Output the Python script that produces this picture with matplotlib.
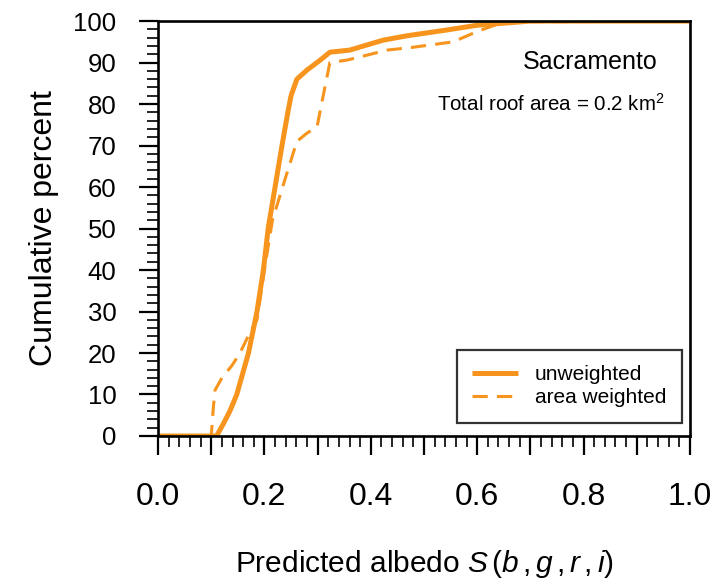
import matplotlib.pyplot as plt
from matplotlib.ticker import MultipleLocator

plt.rcParams['font.family'] = ['Liberation Sans', 'DejaVu Sans']
plt.rcParams['mathtext.fontset'] = 'custom'
plt.rcParams['mathtext.rm'] = 'Liberation Sans'
plt.rcParams['mathtext.it'] = 'Liberation Sans:italic'

# cumulative distribution of predicted albedo, unweighted
albedo_unw = [0.0, 0.11, 0.123, 0.135, 0.148, 0.17, 0.186, 0.198, 0.207, 0.22,
              0.233, 0.244, 0.25, 0.261, 0.28, 0.305, 0.323, 0.36, 0.423, 0.47,
              0.54, 0.6, 0.66, 0.7, 1.0]
pct_unw = [0, 0, 3, 6, 10, 20, 30, 40, 50, 60, 70, 78, 82, 86, 88.2, 90.6,
           92.5, 93, 95.4, 96.5, 97.8, 99, 99.6, 100, 100]

# area weighted
albedo_wtd = [0.0, 0.1, 0.104, 0.107, 0.12, 0.139, 0.154, 0.173, 0.186, 0.2,
              0.215, 0.239, 0.261, 0.28, 0.299, 0.305, 0.323, 0.355, 0.393,
              0.43, 0.48, 0.555, 0.6, 0.65, 1.0]
pct_wtd = [0, 0, 7, 11, 14, 17, 20, 25, 28, 40, 52, 62, 71, 73, 74.5, 78.5, 90,
           90.6, 91.8, 93, 93.7, 95, 97.5, 99.8, 100]

orange = '#f7941d'

fig = plt.figure(figsize=(7.12, 5.86), dpi=100)
ax = fig.add_axes([0.222, 0.256, 0.747, 0.708])

ax.plot(albedo_unw, pct_unw, color=orange, lw=3.6, solid_capstyle='butt',
        label='unweighted')
ax.plot(albedo_wtd, pct_wtd, color=orange, lw=2.2, dashes=(5, 3),
        label='area weighted')

ax.set_xlim(0, 1)
ax.set_ylim(0, 100)
ax.xaxis.set_major_locator(MultipleLocator(0.1))
ax.xaxis.set_minor_locator(MultipleLocator(0.02))
ax.yaxis.set_major_locator(MultipleLocator(10))
ax.yaxis.set_minor_locator(MultipleLocator(2))
# labels only on every other major x tick
ax.xaxis.set_major_formatter(plt.FuncFormatter(
    lambda v, p: f'{v:.1f}' if round(v * 10) % 2 == 0 else ''))

ax.tick_params(which='major', direction='out', length=14, width=1.6)
ax.tick_params(which='minor', direction='out', length=8, width=1.2)
ax.tick_params(axis='y', which='major', pad=16, labelsize=18.5)
ax.tick_params(axis='x', which='major', pad=19, labelsize=23)
for s in ax.spines.values():
    s.set_linewidth(1.9)

ax.set_xlabel(r'Predicted albedo $S\,(b\,,g\,,r\,,i)$', fontsize=21.5,
              labelpad=26)
ax.set_ylabel('Cumulative percent', fontsize=23, labelpad=10)

ax.text(0.94, 0.902, 'Sacramento', transform=ax.transAxes, ha='right',
        va='center', fontsize=18)
ax.text(0.952, 0.80, r'Total roof area = 0.2 km$^2$', transform=ax.transAxes,
        ha='right', va='center', fontsize=14.8)

leg = ax.legend(loc='lower right', bbox_to_anchor=(0.985, 0.031), fontsize=15,
                frameon=True, fancybox=False, edgecolor='black',
                handlelength=2.2, borderpad=0.75, labelspacing=0.2,
                handletextpad=0.8, borderaxespad=0)
leg.get_frame().set_linewidth(1.6)

fig.savefig('out.png', dpi=100)
